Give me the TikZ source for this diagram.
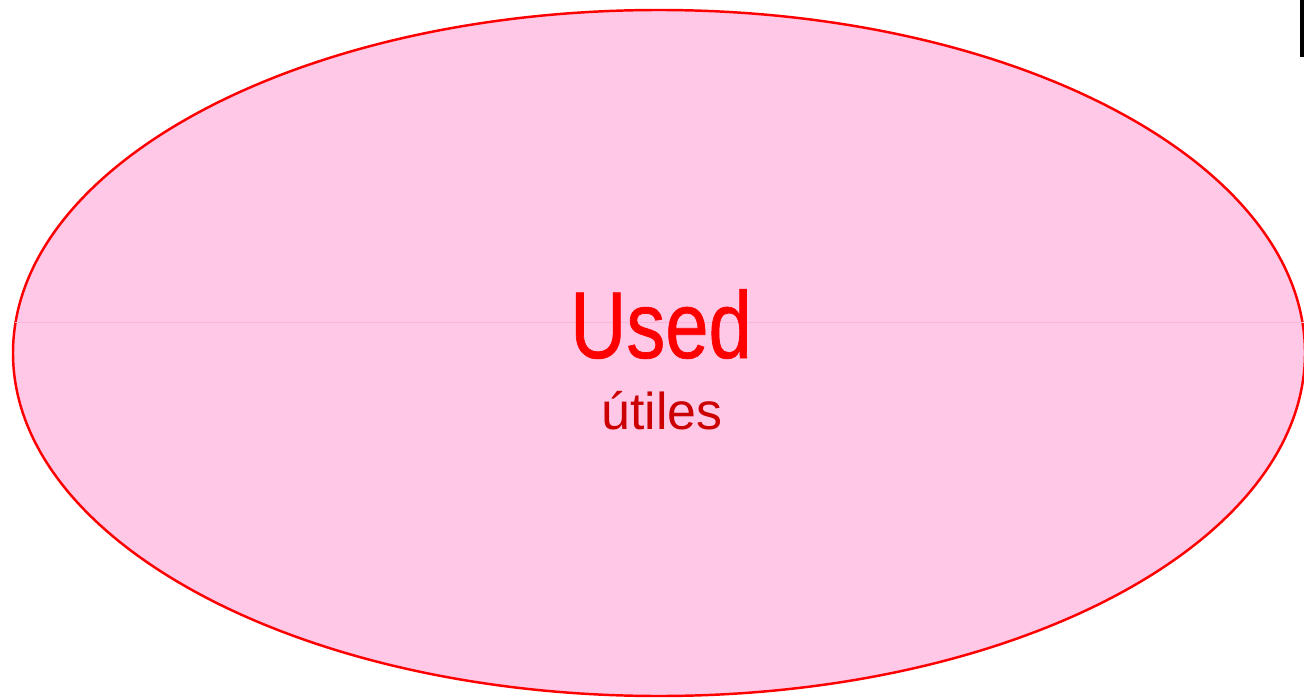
\documentclass[tikz,border=0pt]{standalone}
\usepackage{fontspec}
\setmainfont{Liberation Sans}
\newfontfamily\narrowfont[FakeStretch=0.82,FakeBold=0.7]{Liberation Sans}
\usetikzlibrary{positioning}
\definecolor{usedpink}{RGB}{254,200,230}
\definecolor{usedline}{RGB}{250,182,218}
\definecolor{usedred}{RGB}{255,0,0}
\definecolor{usedsub}{RGB}{204,0,0}

\begin{document}
\begin{tikzpicture}[x=0.02cm, y=-0.02cm]
    \tikzset{setoval/.style = {draw=usedred, fill=usedpink, line width=1.4pt}}
    \tikzset{title/.style = {anchor=base, inner sep=0pt, text=usedred, font=\narrowfont\fontsize{54}{60}\selectfont}}
    \tikzset{subtitle/.style = {anchor=base, inner sep=0pt, text=usedsub, font=\fontsize{29.5}{33}\selectfont}}
    \useasboundingbox (0,0) rectangle (1304,699);

    \draw[setoval] (659,353) ellipse [x radius=646, y radius=343];
    \coordinate (midL) at (15,322);
    \coordinate (midR) at (1304,322);
    \draw[usedline, line width=0.5pt] (midL) -- (midR);

    \node[title] (used) at (661,358) {Used};
    \node[subtitle] (utiles) at (662,429) {útiles};

    \coordinate (barT) at (1302,0);
    \coordinate (barB) at (1302,57);
    \draw[black, line width=2pt] (barT) -- (barB);
\end{tikzpicture}
\end{document}
